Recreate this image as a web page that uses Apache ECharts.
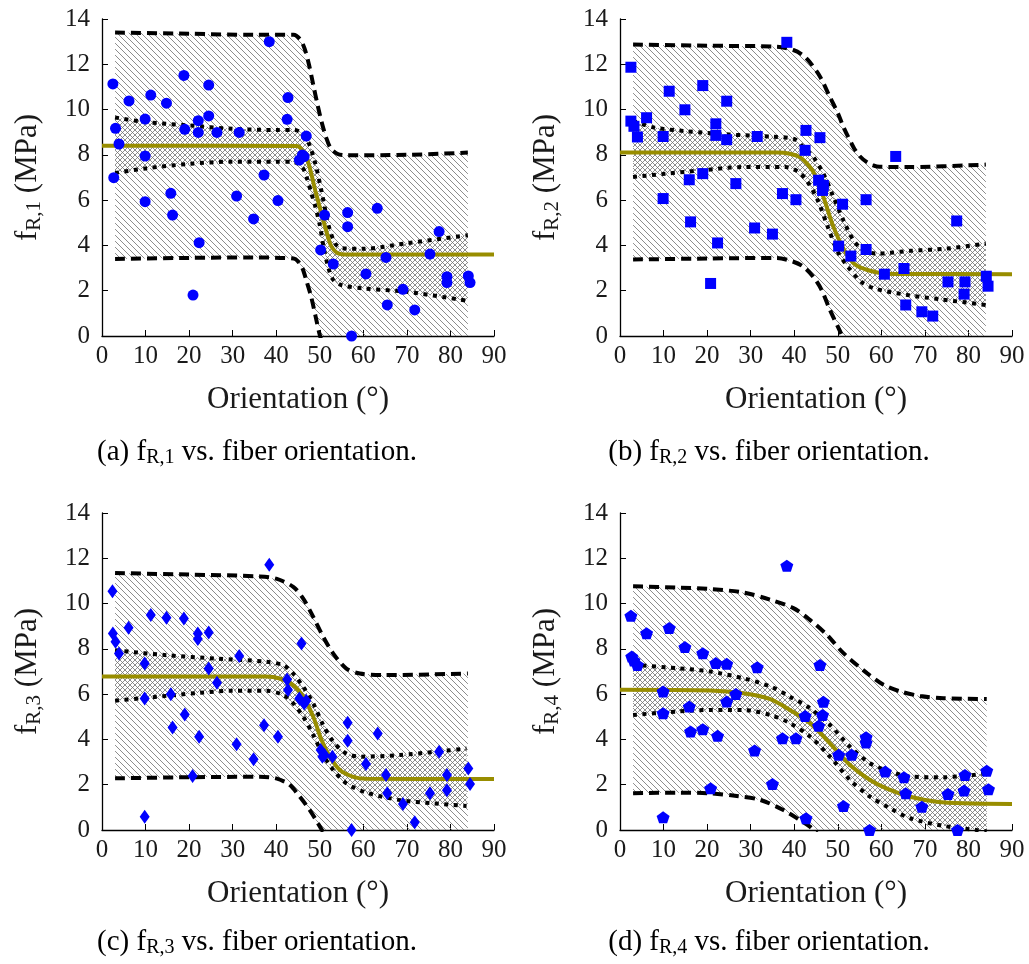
<!DOCTYPE html>
<html>
<head>
<meta charset="utf-8">
<script src="https://cdn.jsdelivr.net/npm/echarts@6.0.0/dist/echarts.min.js"></script>
<style>
  html, body { margin: 0; padding: 0; background: #fff; }
  #chart { width: 1029px; height: 964px; }
</style>
</head>
<body>
<div id="chart"></div>
<script>
// measured points, [orientation (deg), f_R (MPa)]
const ptsA = [[2.5,11.13],[3.1,9.17],[3.9,8.48],[2.7,6.99],[6.2,10.38],[9.9,9.58],[9.9,7.95],[9.9,5.93],[11.2,10.64],[14.8,10.28],[15.8,6.3],[16.2,5.34],[18.8,11.51],[19,9.13],[20.9,1.81],[22.1,9.51],[22.1,8.99],[22.3,4.12],[24.5,11.08],[24.5,9.72],[26.4,8.99],[30.9,6.18],[31.5,8.99],[34.8,5.17],[37.2,7.11],[38.4,13],[40.4,5.98],[42.7,10.53],[42.5,9.57],[45.3,7.77],[46,7.99],[46.4,7.92],[46.9,8.83],[50.2,3.8],[51.1,5.34],[53.1,3.18],[56.4,5.45],[56.4,4.83],[57.3,0],[60.6,2.74],[63.2,5.64],[65.2,3.47],[65.5,1.37],[69.1,2.06],[71.8,1.15],[75.3,3.62],[77.4,4.61],[79.2,2.62],[79.2,2.36],[84.1,2.65],[84.5,2.36]];
const ptsB = [[2.5,11.87],[2.5,9.49],[3.2,9.26],[4,8.79],[6.1,9.64],[9.9,8.81],[9.9,6.07],[11.3,10.81],[14.9,9.99],[15.9,6.9],[16.2,5.04],[19,11.06],[19,7.17],[20.8,2.32],[22,9.37],[22,8.86],[22.4,4.11],[24.5,10.37],[24.5,8.67],[26.6,6.73],[30.9,4.77],[31.5,8.81],[35,4.5],[37.3,6.29],[38.3,12.97],[40.4,6.02],[42.7,9.08],[42.5,8.2],[45.9,8.76],[45.6,6.88],[46.7,6.65],[46.5,6.43],[51.1,5.82],[50.2,3.97],[53,3.53],[56.5,6.02],[56.5,3.82],[60.7,2.73],[63.3,7.93],[65.2,2.98],[65.6,1.37],[69.3,1.07],[71.8,0.88],[75.3,2.39],[77.3,5.08],[79.2,2.39],[79,1.85],[84.1,2.64],[84.5,2.2]];
const ptsC = [[2.4,10.54],[2.5,8.68],[3.1,8.31],[3.9,7.79],[6.1,8.93],[9.8,7.35],[9.8,5.81],[9.8,0.59],[11.2,9.49],[14.8,9.37],[15.8,6],[16.2,4.53],[18.8,9.34],[19,5.1],[20.8,2.38],[22,8.68],[22,8.43],[22.3,4.12],[24.5,8.72],[24.5,7.13],[26.4,6.5],[30.9,3.79],[31.5,7.68],[34.8,3.12],[37.2,4.63],[38.4,11.72],[40.4,4.12],[42.5,6.65],[42.7,6.18],[45.3,5.81],[45.8,8.24],[46.4,5.59],[46.9,5.71],[50.2,3.53],[50.6,3.24],[51.1,3.31],[52.9,3.24],[56.4,4.74],[56.4,3.94],[57.3,0],[60.6,2.91],[63.3,4.26],[65.2,2.43],[65.5,1.62],[69.1,1.15],[71.8,0.34],[75.3,1.62],[77.4,3.46],[79.2,2.43],[79.2,1.76],[84.1,2.72],[84.5,2.03]];
const ptsD = [[2.5,9.46],[2.7,7.66],[3.2,7.49],[4,7.29],[6.1,8.69],[9.9,6.12],[9.9,5.16],[9.9,0.56],[11.3,8.92],[14.9,8.08],[15.9,5.45],[16.2,4.35],[19,7.81],[19,4.45],[20.8,1.84],[22,7.37],[22.4,4.16],[24.5,7.34],[24.5,5.67],[26.6,6.01],[30.9,3.51],[31.5,7.19],[35,2.03],[37.3,4.05],[38.3,11.67],[40.4,4.05],[42.5,5.04],[42.7,0.52],[45.9,7.29],[45.6,4.6],[46.7,5.66],[46.5,5.08],[50.2,3.32],[51.3,1.06],[53.2,3.32],[56.5,4.1],[56.5,3.86],[57.3,0],[60.9,2.58],[65.2,2.33],[65.6,1.62],[69.3,1.03],[75.3,1.59],[77.5,0],[79.2,2.43],[79,1.74],[84.2,2.62],[84.6,1.8]];

// fitted mean curves
const meanA = [[0,8.4],[44.7,8.39],[46,8.2],[47.4,7.63],[49,6.4],[50.8,5.12],[52,4.3],[52.7,3.94],[54,3.67],[56,3.6],[90,3.6]];
const meanB = [[0,8.1],[36,8.1],[39,8.05],[41.3,7.9],[43,7.6],[44.5,7.2],[46.7,6.14],[49,4.82],[51.3,3.86],[53,3.35],[54.4,3.1],[57.4,2.88],[60.5,2.76],[65,2.74],[90,2.73]];
const meanC = [[0,6.78],[37.7,6.78],[40.8,6.69],[43.9,6.4],[46.2,5.88],[48.5,5.0],[50.4,3.97],[52.3,3.24],[54.6,2.65],[57.7,2.35],[60.7,2.26],[90,2.25]];
const meanD = [[0,6.19],[20.7,6.16],[28.3,6.04],[34.5,5.78],[39,5.3],[43.6,4.72],[48.2,3.83],[52.8,2.87],[57.4,2.21],[62,1.77],[66.6,1.47],[72.7,1.25],[78.9,1.18],[90,1.15]];

// prediction bands (dashed)
const upPredA = [[3,13.4],[20,13.35],[35,13.3],[44,13.3],[45.5,13.1],[46.5,12.7],[47.5,12.0],[48.5,11.1],[49.5,10.2],[50.5,9.4],[51.5,8.75],[52.5,8.3],[54,8.05],[56,7.98],[70,8.0],[84,8.1]];
const loPredA = [[3,3.4],[20,3.45],[35,3.47],[44,3.42],[45,3.3],[46,3.0],[47,2.4],[48,1.75],[49,0.9],[50,0.05],[51,-0.5],[52.5,-0.8],[55,-0.9],[70,-0.9],[84,-0.85]];
const upPredB = [[3,12.87],[20,12.82],[36,12.78],[39.8,12.63],[42,12.4],[43.6,12.09],[46,11.43],[48.2,10.55],[50,9.85],[51.3,9.23],[53.6,8.34],[55,7.95],[56.7,7.68],[59,7.49],[66.6,7.46],[84,7.57]];
const loPredB = [[3,3.38],[20,3.42],[36,3.45],[39.8,3.28],[42.1,3.06],[44.4,2.61],[46.3,2.03],[48.2,1.15],[50.2,0.34],[52,-0.4],[54,-1.1],[56,-1.6],[60,-1.95],[70,-2.0],[84,-1.95]];
const upPredC = [[3,11.35],[20,11.28],[36.2,11.2],[40,11.1],[43.9,10.74],[46.2,10.22],[48.5,9.41],[50.8,8.53],[53.1,7.79],[56.1,7.13],[59.2,6.91],[64.5,6.84],[84,6.91]];
const loPredC = [[3,2.28],[20,2.33],[36.2,2.35],[40,2.28],[43.1,1.99],[45.4,1.47],[47.7,0.88],[49.6,0.29],[52,-0.5],[55,-1.5],[58,-2.2],[62,-2.4],[84,-2.4]];
const upPredD = [[3,10.76],[13,10.71],[20.7,10.64],[28.3,10.49],[34.5,10.17],[39.8,9.8],[43.6,9.28],[47.5,8.62],[51.3,7.81],[56.7,6.93],[60.5,6.41],[64.3,6.12],[68.9,5.92],[74.3,5.82],[84.2,5.78]];
const loPredD = [[3,1.62],[13,1.65],[20.7,1.62],[26.8,1.5],[32.2,1.33],[37.5,0.88],[41.3,0.44],[43.6,0.15],[46,-0.3],[50,-1.1],[54,-1.9],[58,-2.6],[63,-3.1],[70,-3.4],[84,-3.5]];

// confidence bands (dotted)
const upConfA = [[3,9.65],[10,9.45],[20,9.3],[30,9.15],[40,9.1],[44,9.1],[46,8.95],[47.5,8.5],[49,7.6],[50.5,6.3],[52,4.9],[53.5,4.1],[55,3.88],[60,3.85],[70,4.1],[84,4.45]];
const loConfA = [[3,7.2],[10,7.4],[20,7.6],[30,7.7],[40,7.7],[44,7.68],[46,7.45],[47,7.0],[48,6.35],[49,5.7],[50,4.9],[51,3.8],[52,3.0],[53,2.5],[55,2.25],[60,2.1],[70,1.95],[84,1.55]];
const upConfB = [[3,9.5],[8,9.2],[15,9.05],[25,8.9],[35,8.8],[40,8.7],[42.1,8.34],[44.4,7.9],[46.7,7.17],[49,6.14],[51.3,5.11],[53.6,4.23],[55.9,3.79],[59,3.64],[66.6,3.76],[75,3.86],[84,4.08]];
const loConfB = [[3,7.02],[10.6,7.17],[19,7.32],[28,7.46],[38,7.46],[41,7.24],[43.1,6.8],[45.4,5.99],[47.7,4.82],[50,3.72],[52.3,3.06],[55.4,2.39],[58.4,2.1],[66,1.81],[73.6,1.62],[84,1.37]];
const upConfC = [[3,7.94],[14.8,7.72],[26.3,7.57],[37.7,7.43],[41.6,7.28],[43.9,6.91],[46.2,6.32],[48.5,5.59],[50.8,4.63],[53.1,3.9],[56.1,3.38],[59.2,3.24],[68.4,3.31],[83.7,3.6]];
const loConfC = [[3,5.71],[8.7,5.81],[22.4,6.06],[30,6.15],[37.7,6.15],[41.6,5.96],[43.9,5.59],[46.2,5.0],[48.5,4.19],[50.8,3.31],[53.1,2.65],[56.1,2.06],[60.7,1.65],[68.4,1.32],[76,1.18],[83.7,1.06]];
const upConfD = [[3,7.29],[13,7.15],[20.7,7.0],[28.3,6.7],[34.5,6.34],[39,5.89],[43.6,5.38],[48.2,4.64],[52.8,3.68],[57.4,2.95],[62,2.58],[66.6,2.36],[74.3,2.33],[84.2,2.5]];
const loConfD = [[3,5.08],[13,5.23],[20.7,5.3],[28.3,5.3],[34.5,5.08],[39,4.72],[43.6,4.13],[48.2,3.24],[52.8,2.21],[57.4,1.47],[62,0.96],[66.6,0.52],[74.3,0.18],[81.9,0.0],[84.2,-0.05]];

const xTicks = [0, 90, 10];   // min, max, step
const yTicks = [0, 14, 2];
const subs = ['R,1', 'R,2', 'R,3', 'R,4'];
const tags = ['(a)', '(b)', '(c)', '(d)'];

const SERIF = 'Liberation Serif';
const pentagon = 'path://M0,-50L47.55,-15.45L29.39,40.45L-29.39,40.45L-47.55,-15.45Z';

function hatch(size, both, bg, color) {
  const c = document.createElement('canvas');
  c.width = c.height = size;
  const g = c.getContext('2d');
  if (bg) { g.fillStyle = bg; g.fillRect(0, 0, size, size); }
  g.strokeStyle = color;
  g.lineWidth = 0.8;
  g.beginPath();
  g.moveTo(-1, -1); g.lineTo(size + 1, size + 1);
  g.moveTo(-1, size - 1); g.lineTo(1, size + 1);
  g.moveTo(size - 1, -1); g.lineTo(size + 1, 1);
  if (both) {
    g.moveTo(-1, size + 1); g.lineTo(size + 1, -1);
    g.moveTo(-1, 1); g.lineTo(1, -1);
    g.moveTo(size - 1, size + 1); g.lineTo(size + 1, size - 1);
  }
  g.stroke();
  return c;
}
const diagPattern = { image: hatch(6, false, null, '#707070'), repeat: 'repeat' };
const crossPattern = { image: hatch(5, true, '#fff', '#707070'), repeat: 'repeat' };

const panels = [
  { pts: ptsA, mean: meanA, upP: upPredA, loP: loPredA, upC: upConfA, loC: loConfA, sym: 'circle', size: 11 },
  { pts: ptsB, mean: meanB, upP: upPredB, loP: loPredB, upC: upConfB, loC: loConfB, sym: 'rect', size: 11 },
  { pts: ptsC, mean: meanC, upP: upPredC, loP: loPredC, upC: upConfC, loC: loConfC, sym: 'diamond', size: [10, 14] },
  { pts: ptsD, mean: meanD, upP: upPredD, loP: loPredD, upC: upConfD, loC: loConfD, sym: pentagon, size: [13, 12] }
];
const grids = [
  { left: 102, top: 19, width: 392, height: 317 },
  { left: 620, top: 19, width: 392, height: 317 },
  { left: 102, top: 513, width: 392, height: 317 },
  { left: 620, top: 513, width: 392, height: 317 }
];

const nameRich = {
  m: { fontFamily: SERIF, fontSize: 31, lineHeight: 34, color: '#1a1a1a' },
  s: { fontFamily: SERIF, fontSize: 21, lineHeight: 21, verticalAlign: 'bottom', color: '#1a1a1a' }
};
const capRich = {
  m: { fontFamily: SERIF, fontSize: 29, lineHeight: 32, color: '#1a1a1a' },
  s: { fontFamily: SERIF, fontSize: 20, lineHeight: 20, verticalAlign: 'bottom', color: '#1a1a1a' }
};

function band(i, upper, lower, fill, z) {
  return {
    type: 'custom', xAxisIndex: i, yAxisIndex: i, clip: true, silent: true, z: z,
    data: [[0, 0]],
    renderItem: function (params, api) {
      const pts = upper.map(p => api.coord(p)).concat(lower.slice().reverse().map(p => api.coord(p)));
      return { type: 'polygon', shape: { points: pts }, style: { fill: fill, stroke: null } };
    }
  };
}
function curve(i, data, color, width, dash, z) {
  return {
    type: 'line', xAxisIndex: i, yAxisIndex: i, data: data, symbol: 'none', smooth: 0.3,
    silent: true, z: z, clip: true,
    lineStyle: { color: color, width: width, type: dash, cap: 'butt' }
  };
}

const series = [];
panels.forEach((p, i) => {
  series.push(band(i, p.upP, p.loP, diagPattern, 1));
  series.push(band(i, p.upC, p.loC, crossPattern, 2));
  series.push(curve(i, p.upP, '#000', 4, [10, 6], 3));
  series.push(curve(i, p.loP, '#000', 4, [10, 6], 3));
  series.push(curve(i, p.upC, '#000', 4, [4, 5.5], 3));
  series.push(curve(i, p.loC, '#000', 4, [4, 5.5], 3));
  series.push(curve(i, p.mean, '#988d00', 4, 'solid', 4));
  series.push({
    type: 'scatter', xAxisIndex: i, yAxisIndex: i, data: p.pts, z: 5,
    symbol: p.sym, symbolSize: p.size, itemStyle: { color: '#0000ff', opacity: 1 }
  });
});

const axisCommon = {
  axisLine: { lineStyle: { color: '#000', width: 1.3 } },
  axisTick: { inside: true, length: 6, lineStyle: { color: '#000', width: 1 } },
  splitLine: { show: false }
};

const option = {
  animation: false,
  backgroundColor: '#fff',
  grid: grids.map(g => Object.assign({ containLabel: false }, g)),
  xAxis: grids.map((g, i) => Object.assign({
    type: 'value', gridIndex: i, min: xTicks[0], max: xTicks[1], interval: xTicks[2],
    name: 'Orientation (°)', nameLocation: 'middle', nameGap: 48,
    nameTextStyle: { fontFamily: SERIF, fontSize: 31, color: '#1a1a1a' },
    axisLabel: { fontFamily: SERIF, fontSize: 25, color: '#1a1a1a', margin: 8 }
  }, axisCommon)),
  yAxis: grids.map((g, i) => Object.assign({
    type: 'value', gridIndex: i, min: yTicks[0], max: yTicks[1], interval: yTicks[2],
    name: '{m|f}{s|' + subs[i] + '}{m| (MPa)}', nameLocation: 'middle', nameGap: 57,
    nameTextStyle: { rich: nameRich },
    axisLabel: { fontFamily: SERIF, fontSize: 25, color: '#1a1a1a', margin: 12 }
  }, axisCommon)),
  graphic: grids.map((g, i) => ({
    type: 'text',
    x: i % 2 === 0 ? 257 : 769,
    y: i < 2 ? 452 : 942,
    style: {
      text: '{m|' + tags[i] + ' f}{s|' + subs[i] + '}{m| vs. fiber orientation.}',
      rich: capRich, align: 'center', verticalAlign: 'middle'
    }
  })),
  series: series
};

const chart = echarts.init(document.getElementById('chart'));
chart.setOption(option);
</script>
</body>
</html>
